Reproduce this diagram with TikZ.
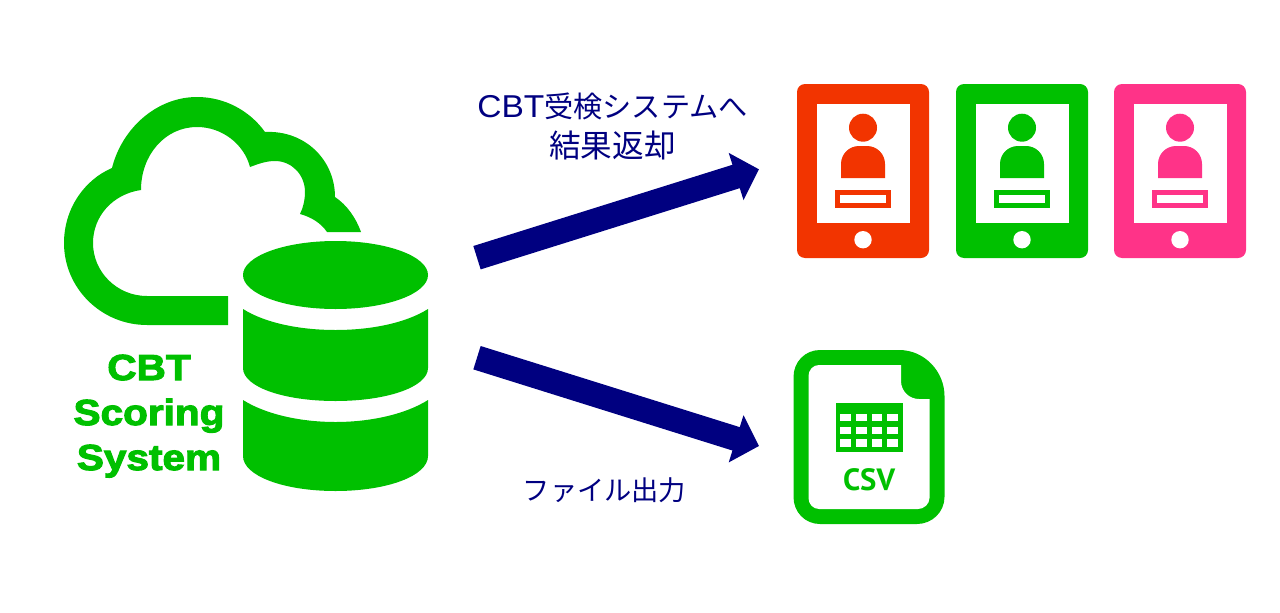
\documentclass[tikz,border=0pt]{standalone}
\usepackage{fontspec}
\usetikzlibrary{arrows.meta}
\newfontfamily\jpfont{Noto Sans CJK JP}
\newfontfamily\arialfont[FakeStretch=1.06]{Liberation Sans}
\newfontfamily\blackfont[FakeBold=3,FakeStretch=1.12]{Liberation Sans Bold}
\newfontfamily\csvfont{PT Sans Bold}
\definecolor{scoregreen}{HTML}{00C000}
\definecolor{tabletred}{HTML}{F23400}
\definecolor{tabletpink}{HTML}{FF3388}
\definecolor{arrownavy}{HTML}{000080}
\tikzset{
  flowarrow/.style={arrownavy,line width=0.49cm,-{Triangle[width=0.96cm,length=0.48cm]}},
  flowlabel/.style={arrownavy,align=center,inner sep=0pt},
  systemlabel/.style={scoregreen,align=center,inner sep=0pt,font=\blackfont\fontsize{20.6}{25.6}\selectfont}
}

\begin{document}
\begin{tikzpicture}[x=0.02cm,y=-0.02cm]
\useasboundingbox (0,0) rectangle (1280,612);
% cloud
\fill[scoregreen] (228,325) -- (147,325)
  .. controls (101,325) and (64,288) .. (64,243)
  .. controls (64,209) and (84,180) .. (112,168)
  .. controls (122,128) and (157,97) .. (197,97)
  .. controls (225,97) and (250,111) .. (265,132)
  .. controls (305,130) and (335,160) .. (335,197)
  .. controls (347,205) and (356,218) .. (361,232)
  -- (327,232)
  .. controls (321,223) and (311,217) .. (300,214)
  .. controls (303,208) and (305,200) .. (305,192)
  .. controls (305,175) and (292,161) .. (275,161)
  .. controls (266,161) and (258,164) .. (250,167)
  .. controls (244,144) and (222,127) .. (197,127)
  .. controls (165,127) and (141,155) .. (141,190)
  .. controls (113,194) and (93,216) .. (93,243)
  .. controls (93,272) and (117,296) .. (147,296)
  -- (228,296) -- cycle;
% database
\fill[scoregreen] (335.5,275) ellipse (92.5 and 34);
\fill[scoregreen] (243,309) .. controls (265,323) and (300,330) .. (335.5,330)
  .. controls (371,330) and (406,323) .. (428,309) -- (428,368)
  .. controls (428,387) and (387,401) .. (335.5,401)
  .. controls (284,401) and (243,387) .. (243,368) -- cycle;
\fill[scoregreen] (243,400) .. controls (265,414) and (300,422) .. (335.5,422)
  .. controls (371,422) and (406,414) .. (428,400) -- (428,456)
  .. controls (428,476) and (387,491) .. (335.5,491)
  .. controls (284,491) and (243,476) .. (243,456) -- cycle;
\node[systemlabel,anchor=base] (cbt) at (149,380) {CBT};
\node[systemlabel,anchor=base] (scoring) at (149,425) {Scoring};
\node[systemlabel,anchor=base] (system) at (149,470) {System};
% arrows
\coordinate (returnstart) at (477,257.7);
\coordinate (returnend) at (759,169.3);
\coordinate (filestart) at (477,357.7);
\coordinate (fileend) at (759,446);
\draw[flowarrow] (returnstart) -- (returnend);
\draw[flowarrow] (filestart) -- (fileend);
\node[flowlabel,font=\jpfont\fontsize{18}{22.7}\selectfont] (returnlabel) at (612.5,126.5) {{\arialfont\fontsize{18}{22.7}\selectfont CBT}{\fontsize{16.6}{22.7}\selectfont 受検システムへ}\\結果返却};
\node[flowlabel,font=\jpfont\fontsize{15.5}{20}\selectfont] (filelabel) at (604.5,490) {ファイル出力};
% tablets
\foreach \dx/\tabcol in {0/tabletred,159/scoregreen,317/tabletpink}{
  \begin{scope}[xshift=\dx*0.02cm]
    \fill[\tabcol,rounded corners=0.16cm] (797,84) rectangle (929,258);
    \fill[white] (816.5,103.5) rectangle (909.5,222.5);
    \fill[\tabcol] (863,127.7) circle (14);
    \fill[\tabcol] (841,178) -- (841,164) .. controls (841,154) and (849,146) .. (859,146) -- (867,146)
      .. controls (877,146) and (885,154) .. (885,164) -- (885,178) -- cycle;
    \fill[\tabcol] (835,190) rectangle (891,208);
    \fill[white] (840,195.3) rectangle (886,203);
    \fill[white] (863,239.7) circle (8.7);
  \end{scope}
}
% csv file
\fill[scoregreen] (820,350) -- (899,350) .. controls (925,350) and (944.5,372) .. (944.5,396) -- (944.5,497)
  .. controls (944.5,512) and (932,524) .. (917,524) -- (820,524)
  .. controls (805,524) and (793.5,512) .. (793.5,497) -- (793.5,377)
  .. controls (793.5,362) and (805,350) .. (820,350) -- cycle;
\fill[white] (819,365) -- (901,365) -- (901,381)
  .. controls (901,391) and (909,399) .. (919,399) -- (929.5,399) -- (929.5,498)
  .. controls (929.5,504) and (924,509) .. (918,509) -- (819,509)
  .. controls (813,509) and (808.5,504) .. (808.5,498) -- (808.5,376)
  .. controls (808.5,370) and (813,365) .. (819,365) -- cycle;
\fill[scoregreen] (835.5,402.5) rectangle (902.5,451.5);
\foreach \cx in {840.3,855.9,871.6,887}{
  \foreach \cy in {414,426.7,439.3}{
    \fill[white] (\cx,\cy) rectangle ++(10.7,7.3);
  }
}
\node[scoregreen,inner sep=0pt,anchor=base,font=\csvfont\fontsize{17.5}{20}\selectfont] (csvlabel) at (869,490) {CSV};
\end{tikzpicture}
\end{document}
